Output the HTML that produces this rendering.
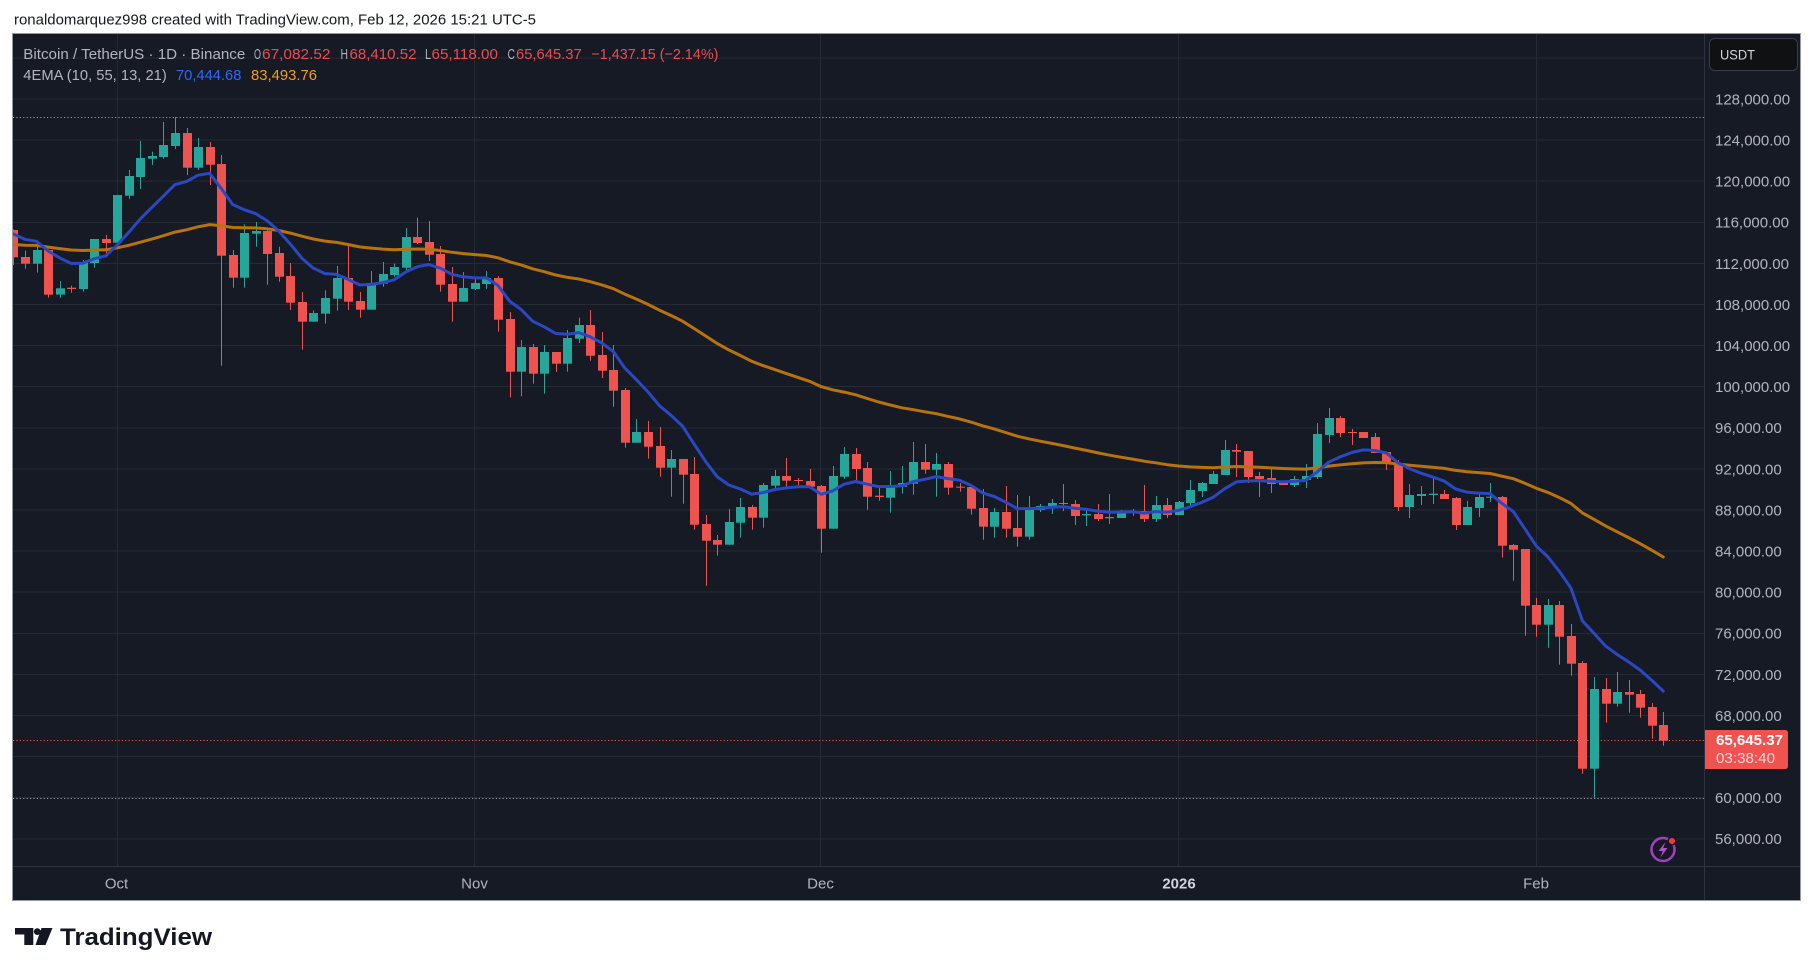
<!DOCTYPE html>
<html><head><meta charset="utf-8">
<style>
html,body{margin:0;padding:0;background:#fff;}
body{width:1814px;height:976px;overflow:hidden;}
svg{display:block;}
text{font-family:"Liberation Sans",sans-serif;}
</style></head><body>
<svg id="s" width="1814" height="976" viewBox="0 0 1814 976" xmlns="http://www.w3.org/2000/svg">
<defs><clipPath id="plot"><rect x="13" y="34" width="1691" height="832"/></clipPath></defs>
<rect width="1814" height="976" fill="#fff"/>
<text x="14" y="24.5" font-size="15" fill="#131722" textLength="522" lengthAdjust="spacingAndGlyphs">ronaldomarquez998 created with TradingView.com, Feb 12, 2026 15:21 UTC-5</text>
<rect x="12.5" y="33.5" width="1788" height="867" fill="#161a25" stroke="#9598a1" stroke-width="1"/>
<g stroke="#262a35" stroke-width="1">
<line x1="13" x2="1704" y1="58" y2="58"/><line x1="13" x2="1704" y1="99" y2="99"/><line x1="13" x2="1704" y1="140" y2="140"/><line x1="13" x2="1704" y1="181" y2="181"/><line x1="13" x2="1704" y1="222.5" y2="222.5"/><line x1="13" x2="1704" y1="263.5" y2="263.5"/><line x1="13" x2="1704" y1="304.5" y2="304.5"/><line x1="13" x2="1704" y1="345.5" y2="345.5"/><line x1="13" x2="1704" y1="386.5" y2="386.5"/><line x1="13" x2="1704" y1="428" y2="428"/><line x1="13" x2="1704" y1="469" y2="469"/><line x1="13" x2="1704" y1="510" y2="510"/><line x1="13" x2="1704" y1="551" y2="551"/><line x1="13" x2="1704" y1="592" y2="592"/><line x1="13" x2="1704" y1="633.5" y2="633.5"/><line x1="13" x2="1704" y1="674.5" y2="674.5"/><line x1="13" x2="1704" y1="715.5" y2="715.5"/><line x1="13" x2="1704" y1="756.5" y2="756.5"/><line x1="13" x2="1704" y1="797.5" y2="797.5"/><line x1="13" x2="1704" y1="839" y2="839"/>
<line x1="117.5" x2="117.5" y1="34" y2="866"/><line x1="474.5" x2="474.5" y1="34" y2="866"/><line x1="820.5" x2="820.5" y1="34" y2="866"/><line x1="1178.5" x2="1178.5" y1="34" y2="866"/><line x1="1536.5" x2="1536.5" y1="34" y2="866"/>
</g>
<line x1="1704.5" x2="1704.5" y1="34" y2="900" stroke="#2f3340" stroke-width="1"/>
<line x1="13" x2="1800" y1="866.5" y2="866.5" stroke="#2f3340" stroke-width="1"/>
<g clip-path="url(#plot)">
<line x1="13" x2="1704" y1="117.5" y2="117.5" stroke="#9598a1" stroke-width="1" stroke-dasharray="1.2 2.2"/>
<line x1="13" x2="1704" y1="798.5" y2="798.5" stroke="#9598a1" stroke-width="1" stroke-dasharray="1.2 2.2"/>
<line x1="13" x2="1704" y1="740.5" y2="740.5" stroke="#ef5350" stroke-width="1" stroke-dasharray="1.2 2.2"/>
<g id="candles"></g>
<g id="lines" fill="none" stroke-width="3" stroke-linejoin="round" stroke-linecap="round"></g>
</g>
<!-- legend -->
<g font-size="15">
<text x="23.3" y="59" fill="#b2b5be" textLength="222" lengthAdjust="spacingAndGlyphs">Bitcoin / TetherUS · 1D · Binance</text>
<text x="254" y="59" fill="#b2b5be" textLength="7" lengthAdjust="spacingAndGlyphs">O</text><text x="262" y="59" fill="#ef4b4f" textLength="68.5" lengthAdjust="spacingAndGlyphs">67,082.52</text>
<text x="340.5" y="59" fill="#b2b5be" textLength="7.5" lengthAdjust="spacingAndGlyphs">H</text><text x="349.5" y="59" fill="#ef4b4f" textLength="67" lengthAdjust="spacingAndGlyphs">68,410.52</text>
<text x="425" y="59" fill="#b2b5be" textLength="6" lengthAdjust="spacingAndGlyphs">L</text><text x="431.5" y="59" fill="#ef4b4f" textLength="66.4" lengthAdjust="spacingAndGlyphs">65,118.00</text>
<text x="507.5" y="59" fill="#b2b5be" textLength="7.5" lengthAdjust="spacingAndGlyphs">C</text><text x="516" y="59" fill="#ef4b4f" textLength="65.7" lengthAdjust="spacingAndGlyphs">65,645.37</text>
<text x="591.4" y="59" fill="#ef4b4f" textLength="127" lengthAdjust="spacingAndGlyphs">−1,437.15 (−2.14%)</text>
<text x="23.3" y="80" fill="#b2b5be" textLength="143.5" lengthAdjust="spacingAndGlyphs">4EMA (10, 55, 13, 21)</text>
<text x="176" y="80" fill="#2f66ff" textLength="65.4" lengthAdjust="spacingAndGlyphs">70,444.68</text>
<text x="251" y="80" fill="#f59e1a" textLength="66" lengthAdjust="spacingAndGlyphs">83,493.76</text>
</g>
<!-- price axis -->
<rect x="1709.5" y="38.5" width="88" height="32" rx="5" fill="#101113" stroke="#3a3d45" stroke-width="1"/>
<text x="1720" y="59.5" font-size="14" fill="#d1d4dc" textLength="35" lengthAdjust="spacingAndGlyphs">USDT</text>
<g font-size="15" fill="#b2b5be">
<text x="1715" y="104.4">128,000.00</text>
<text x="1715" y="145.5">124,000.00</text>
<text x="1715" y="186.6">120,000.00</text>
<text x="1715" y="227.7">116,000.00</text>
<text x="1715" y="268.8">112,000.00</text>
<text x="1715" y="309.9">108,000.00</text>
<text x="1715" y="351">104,000.00</text>
<text x="1715" y="392.1">100,000.00</text>
<text x="1715" y="433.2">96,000.00</text>
<text x="1715" y="474.3">92,000.00</text>
<text x="1715" y="515.4">88,000.00</text>
<text x="1715" y="556.5">84,000.00</text>
<text x="1715" y="597.6">80,000.00</text>
<text x="1715" y="638.7">76,000.00</text>
<text x="1715" y="679.8">72,000.00</text>
<text x="1715" y="720.9">68,000.00</text>
<text x="1715" y="803.1">60,000.00</text>
<text x="1715" y="844.2">56,000.00</text>
</g>
<path d="M1705,730 H1785 Q1788,730 1788,733 V766 Q1788,769 1785,769 H1705 Z" fill="#f0524f"/>
<text x="1716" y="744.8" font-size="15" font-weight="bold" fill="#ffffff" textLength="67" lengthAdjust="spacingAndGlyphs">65,645.37</text>
<text x="1716" y="762.8" font-size="15" fill="#fcd6d5" textLength="59" lengthAdjust="spacingAndGlyphs">03:38:40</text>
<!-- time axis -->
<g font-size="15" fill="#b2b5be" text-anchor="middle">
<text x="116.5" y="888.5">Oct</text>
<text x="474.5" y="888.5">Nov</text>
<text x="820.5" y="888.5">Dec</text>
<text x="1179" y="888.5" font-weight="bold" fill="#d1d4dc">2026</text>
<text x="1536" y="888.5">Feb</text>
</g>
<!-- lightning icon -->
<circle cx="1663" cy="849.5" r="11.5" fill="#1a1626" stroke="#9c44bd" stroke-width="2.5"/>
<path d="M1665.5,842 L1658.5,851 L1662.8,851 L1660.5,857.5 L1667.5,848 L1663.2,848 Z" fill="#a855c7"/>
<circle cx="1672" cy="841" r="3.8" fill="#f23645" stroke="#161a25" stroke-width="1.5"/>
<!-- logo -->
<path d="M15,928 H33.3 V945 H24.3 V934.5 H15 Z" fill="#131722"/>
<circle cx="37.3" cy="931.6" r="3.4" fill="#131722"/>
<path d="M41.5,928 H52.5 L45.5,945 H35.5 Z" fill="#131722"/>
<text x="60" y="945" font-size="24" font-weight="bold" fill="#131722" textLength="152" lengthAdjust="spacingAndGlyphs">TradingView</text>
</svg>
<script>
(function(){
var A=[[0,390,472,388,495],[0,471,491,452,506],[1,450,491,430,518],[0,450,584,448,593],[1,565,584,543,593],[0,563,567,557,578],[1,486,567,480,575],[1,417,489,417,503],[0,417,429,405,470],[1,285,428,285,430],
[1,228,287,210,297],[1,174,231,123,267],[1,168,176,155,195],[1,135,171,66,176],[1,99,138,51,147],[0,99,203,84,225],[1,141,203,114,210],[0,141,194,126,255],[0,192,467,165,797],[0,465,533,450,563],
[1,399,533,373,563],[1,393,401,366,440],[0,393,462,383,554],[0,459,530,440,545],[0,528,608,489,630],[0,606,665,576,749],[1,639,665,631,665],[1,594,641,571,671],[1,534,596,498,632],[0,534,605,430,630],
[0,603,629,576,653],[1,549,629,513,629],[1,522,551,486,560],[1,501,525,491,530],[1,411,503,384,513],[0,411,429,353,432],[0,426,464,363,483],[0,462,554,438,575],[0,552,605,501,665],[1,564,605,516,605],
[1,549,567,534,570],[1,534,552,513,567],[0,534,659,528,695],[0,657,815,636,892],[1,741,815,720,889]];
var B=[[0,201,281,192,311],[1,216,281,195,341],[0,216,251,216,276],[1,174,251,150,275],[1,135,176,113,189],[0,135,227,90,242],[0,225,272,156,294],[0,270,332,195,380],[0,330,488,324,503],[1,456,488,417,488],
[0,456,500,423,536],[0,498,563,441,590],[1,537,563,510,650],[0,537,584,537,671],[0,582,734,531,749],[0,732,782,705,917],[0,780,794,765,827],[1,726,794,687,794],[1,681,728,654,773],[0,681,713,675,749],
[1,615,713,609,743],[1,588,617,570,626],[0,588,602,534,623],[0,600,603,594,623],[0,603,620,567,620],[0,618,746,615,818],[1,588,746,558,746],[1,522,590,501,596],[0,522,567,504,600],[0,564,650,546,689],
[0,647,651,621,662],[1,618,653,573,698],[1,609,620,558,641],[1,546,611,486,644],[0,546,569,492,581],[1,552,569,519,650],[0,552,623,546,644],[0,620,623,609,635],[0,621,686,615,704],[0,684,740,627,779],
[1,696,740,684,773],[0,696,746,618,773],[0,744,770,645,800],[1,687,770,648,779]];
var C=[[1,378,390,372,396],[1,369,381,357,402],[0,369,372,312,393],[0,372,408,360,435],[1,402,406,390,438],[0,402,417,372,423],[1,411,415,342,432],[1,393,414,390,414],[1,393,396,387,408],[0,393,417,315,426],
[1,375,417,348,426],[0,375,405,354,414],[1,366,405,363,405],[1,330,369,300,378],[1,309,333,306,351],[1,282,312,273,312],[1,210,285,180,285],[0,210,215,192,291],[0,213,291,213,309],[0,288,297,276,351],
[0,294,312,266,339],[0,309,315,303,315],[1,297,315,288,321],[1,288,300,252,324],[1,162,291,129,297],[1,114,165,84,189],[0,114,159,108,171],[0,156,159,147,195],[0,156,174,156,174],[0,171,219,159,219],
[0,216,252,216,270],[0,249,381,240,393],[1,345,381,312,414],[1,342,348,318,375],[1,341,345,291,372],[0,342,357,330,357],[0,354,435,351,450],[1,381,435,363,435],[1,351,384,342,411],[1,350,353,309,366]];
var D=[[0,171,317,168,353],[0,315,329,312,422],[0,327,497,327,587],[0,495,554,474,590],[1,495,554,477,623],[0,495,590,483,674],[0,588,671,552,707],[0,669,986,663,1001],[1,747,986,711,1073],[0,747,791,714,848],
[1,756,791,696,800],[0,756,764,720,818],[0,762,803,750,833],[0,801,857,789,896],[0,855,902,816,917]];
var chunks=[[100,A],[280,B],[380,C],[440,D]];
var cs=[];
chunks.forEach(function(ch){var off=ch[0];ch[1].forEach(function(d){cs.push({g:d[0],t:off+d[1]/3,b:off+d[2]/3,wt:off+d[3]/3,wb:off+d[4]/3});});});
function X(i){return 117.3+(i-9)*11.537;}
var s='';
cs.forEach(function(c,i){
  var xc=Math.round(X(i));var col=c.g?'#26a69a':'#ef5350';
  s+='<rect x="'+xc+'" y="'+c.wt.toFixed(1)+'" width="1" height="'+Math.max(1,c.wb-c.wt).toFixed(1)+'" fill="'+col+'"/>';
  s+='<rect x="'+(xc-4)+'" y="'+c.t.toFixed(1)+'" width="9" height="'+Math.max(1,c.b-c.t).toFixed(1)+'" fill="'+col+'"/>';
});
document.getElementById('candles').innerHTML=s;
var e10=234,e55=244.5,p10=[],p55=[];
cs.forEach(function(c,i){
  var cl=c.g?c.t:c.b;
  if(i>0){e10=e10+(cl-e10)*2/11;e55=e55+(cl-e55)*2/56;}
  var x=X(i);
  p10.push(x.toFixed(1)+','+e10.toFixed(1));
  p55.push(x.toFixed(1)+','+e55.toFixed(1));
});
document.getElementById('lines').innerHTML=
 '<polyline points="'+p55.join(' ')+'" stroke="#b8720e"/>'+
 '<polyline points="'+p10.join(' ')+'" stroke="#2a48c2"/>';
})();
</script>
</body></html>
